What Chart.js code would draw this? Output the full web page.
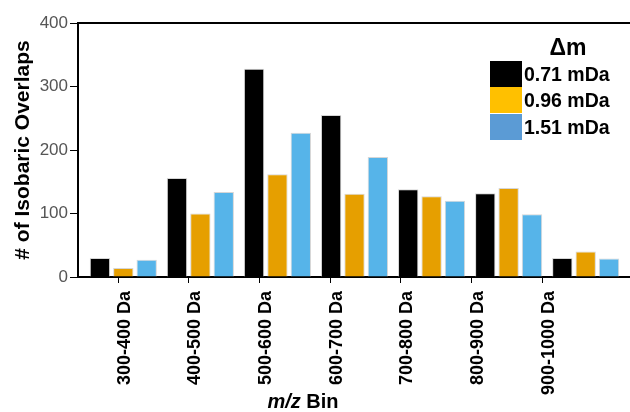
<!DOCTYPE html>
<html>
<head>
<meta charset="utf-8">
<script src="https://cdn.jsdelivr.net/npm/chart.js@4"></script>
<style>
  html, body { margin:0; padding:0; background:#fff; }
  #wrap { position:relative; width:630px; height:412px; font-family:"Liberation Sans", Arial, sans-serif; }
  #c { position:absolute; left:0; top:0; }
  #xtitle { position:absolute; left:0; width:606px; top:389px; text-align:center; font-weight:bold; font-size:20px; color:#000; line-height:24px; }
  #legend { position:absolute; left:490px; top:35px; font-weight:bold; color:#000; }
  #legend .ttl { position:absolute; left:34px; width:88px; top:-1px; text-align:center; font-size:23px; line-height:26px; }
  #legend .row { position:absolute; left:0; height:26.4px; }
  #legend .sw { position:absolute; left:0; top:0; width:32px; height:26.4px; }
  #legend .lb { position:absolute; left:34px; top:0; font-size:19.5px; line-height:26.4px; white-space:nowrap; }
</style>
</head>
<body>
<div id="wrap">
  <canvas id="c" width="630" height="412"></canvas>
  <div id="xtitle"><i>m/z</i> Bin</div>
  <div id="legend"></div>
</div>
<script>
const categories = ['300-400 Da','400-500 Da','500-600 Da','600-700 Da','700-800 Da','800-900 Da','900-1000 Da'];
const seriesNames = ['0.71 mDa','0.96 mDa','1.51 mDa'];
const values071 = [30, 156, 328, 255, 138, 132, 30];
const values096 = [14, 100, 162, 131, 127, 140, 40];
const values151 = [27, 134, 227, 189, 120, 99, 29];
const yTicks = [0, 100, 200, 300, 400];
const legendTitle = 'Δm';

const barColors = ['#000000', '#E69F00', '#56B4E9'];
const legendColors = ['#000000', '#FFC000', '#5B9BD5'];

const toPts = arr => arr.map((v, i) => ({x: i, y: v}));
const allSeries = [values071, values096, values151];

// legend (HTML text)
const lg = document.getElementById('legend');
const t = document.createElement('div'); t.className = 'ttl'; t.textContent = legendTitle; lg.appendChild(t);
seriesNames.forEach((n, i) => {
  const r = document.createElement('div'); r.className = 'row'; r.style.top = (25.7 + i * 26.4) + 'px';
  const s = document.createElement('div'); s.className = 'sw'; s.style.background = legendColors[i];
  const l = document.createElement('div'); l.className = 'lb'; l.textContent = n;
  r.appendChild(s); r.appendChild(l); lg.appendChild(r);
});

const frame = {
  id: 'frame',
  afterDraw(chart) {
    const {ctx, chartArea} = chart;
    ctx.save();
    ctx.strokeStyle = '#000';
    ctx.lineWidth = 2;
    ctx.beginPath();
    ctx.moveTo(chartArea.left - 1, chartArea.top);
    ctx.lineTo(chartArea.right, chartArea.top);
    ctx.stroke();
    ctx.restore();
  }
};

const noPad = scale => { scale.paddingLeft = 0; scale.paddingRight = 0; scale.paddingTop = 0; scale.paddingBottom = 0; };

new Chart(document.getElementById('c'), {
  type: 'bar',
  data: {
    datasets: seriesNames.map((n, i) => ({
      label: n,
      data: toPts(allSeries[i]),
      backgroundColor: barColors[i],
      borderColor: 'rgba(210,210,210,0.9)',
      borderWidth: 1,
      xAxisID: 'x',
      categoryPercentage: 0.91,
      barPercentage: 0.87
    }))
  },
  options: {
    responsive: false,
    animation: false,
    layout: { padding: { top: 23, right: 0, left: 0, bottom: 0 } },
    plugins: { legend: { display: false }, tooltip: { enabled: false } },
    scales: {
      x: {
        type: 'linear',
        display: false,
        offset: false,
        grid: { offset: false },
        min: -0.588,
        max: 6.575,
        afterFit: noPad
      },
      x2: {
        type: 'linear',
        position: 'bottom',
        offset: false,
        min: -0.570,
        max: 7.241,
        afterBuildTicks(scale) { scale.ticks = categories.map((_, i) => ({value: i})); },
        afterFit(scale) { scale.height = 135; noPad(scale); },
        grid: { offset: false, drawOnChartArea: false, tickLength: 6, color: '#000', lineWidth: 1 },
        border: { display: true, color: '#000', width: 2 },
        ticks: {
          callback: v => categories[v],
          minRotation: 90, maxRotation: 90,
          autoSkip: false,
          labelOffset: 6.5,
          padding: 8,
          color: '#000',
          font: { family: '"Liberation Sans", Arial, sans-serif', size: 18, weight: 'bold' }
        }
      },
      y: {
        min: 0, max: 400,
        afterBuildTicks(scale) { scale.ticks = yTicks.map(v => ({value: v})); },
        afterFit(scale) { scale.width = 78; noPad(scale); },
        grid: { drawOnChartArea: false, tickLength: 8, color: '#000', lineWidth: 1 },
        border: { display: true, color: '#000', width: 2 },
        ticks: {
          padding: 2,
          color: '#555',
          font: { family: '"Liberation Sans", Arial, sans-serif', size: 17 }
        },
        title: {
          display: true,
          text: '# of Isobaric Overlaps',
          color: '#000',
          padding: { top: 11, bottom: 0 },
          font: { family: '"Liberation Sans", Arial, sans-serif', size: 21, weight: 'bold' }
        }
      }
    }
  },
  plugins: [frame]
});
</script>
</body>
</html>
